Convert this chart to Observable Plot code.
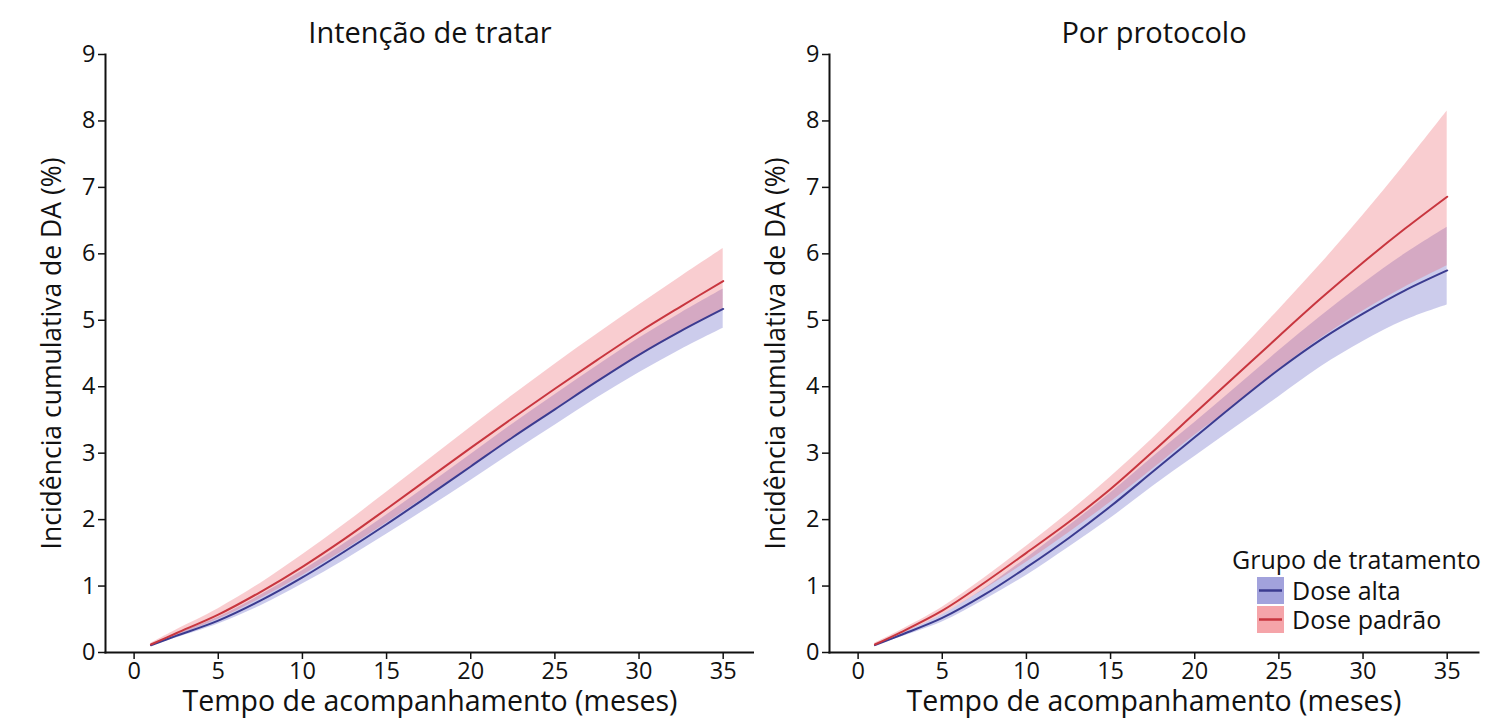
<!DOCTYPE html>
<html>
<head>
<meta charset="utf-8">
<script src="https://cdn.jsdelivr.net/npm/d3@7"></script>
<script src="https://cdn.jsdelivr.net/npm/@observablehq/plot@0.6"></script>
<style>
  html, body { margin: 0; padding: 0; background: #fff; }
  #wrap { position: relative; width: 1488px; height: 718px; font-family: "Open Sans", sans-serif; }
  #left, #right { position: absolute; top: 0; }
  #left { left: 0; }
  #right { left: 754px; }
  #legend { position: absolute; left: 1232px; top: 542px; font-family: "Open Sans", sans-serif; color: #111; }
  #legend .title { font-size: 25px; line-height: 34px; white-space: nowrap; }
  #legend .row { display: flex; align-items: center; height: 29px; line-height: 29px; margin-left: 25px; font-size: 25px; white-space: nowrap; }
  #legend svg { margin-right: 8px; }
</style>
</head>
<body>
<div id="wrap">
  <div id="left"></div>
  <div id="right"></div>
  <div id="legend"></div>
</div>
<script>
// ---- data ----
const months = [1, 2.5, 5, 7.5, 10, 12.5, 15, 17.5, 20, 22.5, 25, 27.5, 30, 32.5, 35];

// Intenção de tratar
const ittAltaEst   = [0.11, 0.25, 0.48, 0.78, 1.13, 1.52, 1.93, 2.36, 2.80, 3.24, 3.66, 4.08, 4.48, 4.84, 5.17];
const ittAltaLo    = [0.10, 0.22, 0.43, 0.70, 1.03, 1.39, 1.78, 2.18, 2.59, 3.01, 3.42, 3.83, 4.21, 4.56, 4.88];
const ittAltaHi    = [0.12, 0.28, 0.53, 0.86, 1.23, 1.64, 2.07, 2.52, 2.98, 3.44, 3.88, 4.31, 4.73, 5.11, 5.47];
const ittPadraoEst = [0.12, 0.29, 0.57, 0.91, 1.29, 1.71, 2.16, 2.62, 3.08, 3.53, 3.97, 4.40, 4.82, 5.21, 5.59];
const ittPadraoLo  = [0.10, 0.25, 0.50, 0.81, 1.16, 1.54, 1.95, 2.37, 2.80, 3.23, 3.66, 4.07, 4.46, 4.82, 5.17];
const ittPadraoHi  = [0.14, 0.34, 0.66, 1.04, 1.47, 1.93, 2.41, 2.90, 3.39, 3.87, 4.34, 4.79, 5.23, 5.66, 6.08];

// Por protocolo
const ppAltaEst   = [0.11, 0.26, 0.52, 0.87, 1.28, 1.72, 2.20, 2.72, 3.24, 3.76, 4.26, 4.71, 5.10, 5.45, 5.75];
const ppAltaLo    = [0.10, 0.23, 0.46, 0.79, 1.16, 1.58, 2.02, 2.50, 2.95, 3.40, 3.85, 4.30, 4.68, 5.00, 5.23];
const ppAltaHi    = [0.12, 0.28, 0.57, 0.96, 1.42, 1.90, 2.40, 2.94, 3.46, 4.00, 4.54, 5.06, 5.55, 6.00, 6.40];
const ppPadraoEst = [0.12, 0.30, 0.63, 1.05, 1.50, 1.96, 2.46, 3.02, 3.60, 4.18, 4.76, 5.33, 5.87, 6.38, 6.86];
const ppPadraoLo  = [0.10, 0.27, 0.57, 0.95, 1.36, 1.80, 2.26, 2.76, 3.27, 3.74, 4.26, 4.73, 5.14, 5.50, 5.82];
const ppPadraoHi  = [0.14, 0.33, 0.68, 1.12, 1.60, 2.10, 2.64, 3.22, 3.84, 4.49, 5.16, 5.85, 6.58, 7.35, 8.15];

const groups = ["Dose alta", "Dose padrão"];
const xTicks = [0, 5, 10, 15, 20, 25, 30, 35];
const yTicks = [0, 1, 2, 3, 4, 5, 6, 7, 8, 9];
const panelTitles = ["Intenção de tratar", "Por protocolo"];
const xLabel = "Tempo de acompanhamento (meses)";
const yLabel = "Incidência cumulativa de DA (%)";
const legendTitle = "Grupo de tratamento";

// ---- styles ----
const lineColor = { "Dose alta": "#3b3b90", "Dose padrão": "#c8363f" };
const bandColor = { "Dose alta": "#5656c0", "Dose padrão": "#ec5a62" };
const bandOpacity = 0.3;
const curve = "catmull-rom";

function rows(group, est, lo, hi) {
  return months.map((m, i) => ({ group, month: m, est: est[i], lo: lo[i], hi: hi[i] }));
}

function panel(title, data, marginLeft, width) {
  const alta = data.filter(d => d.group === groups[0]);
  const padrao = data.filter(d => d.group === groups[1]);
  return Plot.plot({
    width, height: 718,
    marginLeft, marginRight: width - marginLeft - 649, marginTop: 54, marginBottom: 66,
    style: { fontFamily: "Open Sans, sans-serif", fontSize: "23.5px", color: "#111", background: "white", overflow: "visible" },
    x: { domain: [-1.7, 36.86] },
    y: { domain: [0, 9] },
    marks: [
      Plot.areaY(alta, { x: "month", y1: "lo", y2: "hi", fill: bandColor[groups[0]], fillOpacity: bandOpacity, curve }),
      Plot.areaY(padrao, { x: "month", y1: "lo", y2: "hi", fill: bandColor[groups[1]], fillOpacity: bandOpacity, curve }),
      Plot.line(alta, { x: "month", y: "est", stroke: lineColor[groups[0]], strokeWidth: 2, curve }),
      Plot.line(padrao, { x: "month", y: "est", stroke: lineColor[groups[1]], strokeWidth: 2, curve }),
      Plot.axisX({ ticks: xTicks, tickSize: 7, tickPadding: 3, tickFormat: d => String(d), label: null, fontSize: 23.5, strokeWidth: 1.5 }),
      Plot.axisY({ ticks: yTicks, tickSize: 7, tickPadding: 3, tickFormat: d => String(d), label: null, fontSize: 23.5, strokeWidth: 1.5 }),
      Plot.frame({ anchor: "left", stroke: "#111", strokeWidth: 2 }),
      Plot.frame({ anchor: "bottom", stroke: "#111", strokeWidth: 2 }),
      Plot.text([title], { frameAnchor: "top", dy: -21, lineAnchor: "middle", fontSize: 29, fill: "#111" }),
      Plot.text([xLabel], { frameAnchor: "bottom", dy: 49, lineAnchor: "middle", fontSize: 28.5, fill: "#111" }),
      Plot.text([yLabel], { frameAnchor: "left", dx: -53, rotate: -90, textAnchor: "middle", lineAnchor: "middle", fontSize: 26.5, fill: "#111" })
    ]
  });
}

const itt = [
  ...rows(groups[0], ittAltaEst, ittAltaLo, ittAltaHi),
  ...rows(groups[1], ittPadraoEst, ittPadraoLo, ittPadraoHi)
];
const pp = [
  ...rows(groups[0], ppAltaEst, ppAltaLo, ppAltaHi),
  ...rows(groups[1], ppPadraoEst, ppPadraoLo, ppPadraoHi)
];

document.getElementById("left").append(panel(panelTitles[0], itt, 105, 754));
document.getElementById("right").append(panel(panelTitles[1], pp, 75, 734));

// legend
const legend = document.getElementById("legend");
const t = document.createElement("div");
t.className = "title";
t.textContent = legendTitle;
legend.append(t);
for (const g of groups) {
  const row = document.createElement("div");
  row.className = "row";
  const ns = "http://www.w3.org/2000/svg";
  const s = document.createElementNS(ns, "svg");
  s.setAttribute("width", 27); s.setAttribute("height", 27);
  const r = document.createElementNS(ns, "rect");
  r.setAttribute("width", 27); r.setAttribute("height", 27);
  r.setAttribute("fill", bandColor[g]); r.setAttribute("fill-opacity", 0.55);
  const l = document.createElementNS(ns, "line");
  l.setAttribute("x1", 2); l.setAttribute("x2", 25); l.setAttribute("y1", 13.5); l.setAttribute("y2", 13.5);
  l.setAttribute("stroke", lineColor[g]); l.setAttribute("stroke-width", 2.5);
  s.append(r, l);
  const span = document.createElement("span");
  span.textContent = g;
  row.append(s, span);
  legend.append(row);
}
</script>
</body>
</html>
